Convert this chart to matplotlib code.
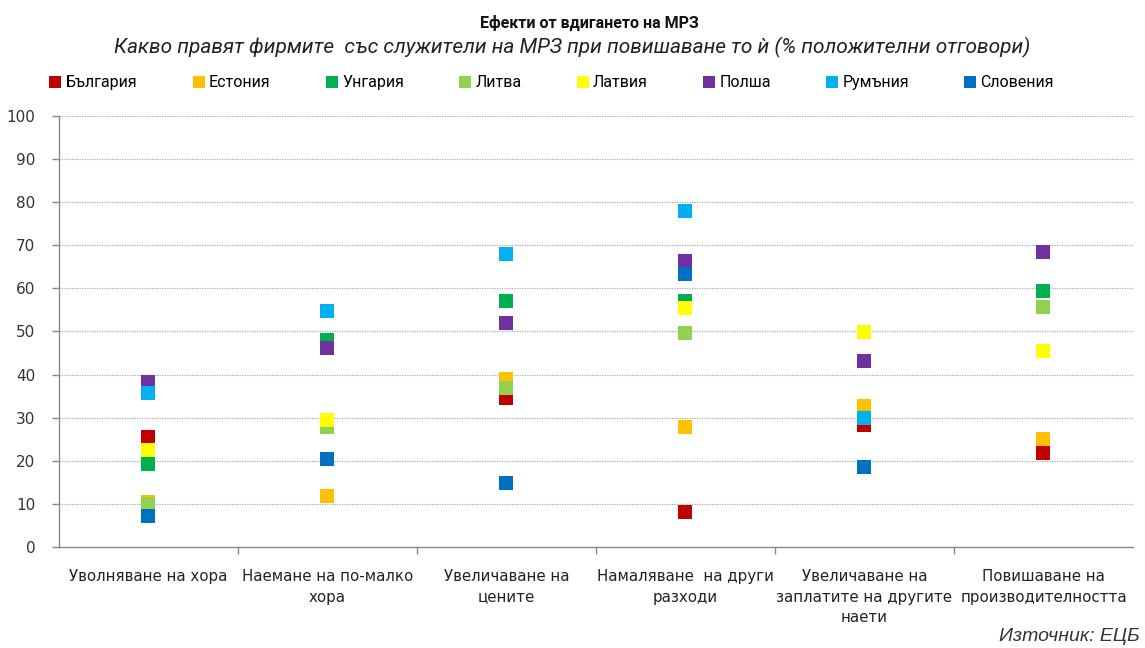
import matplotlib

matplotlib.use("Agg")
import matplotlib.pyplot as plt
import numpy as np
from matplotlib.lines import Line2D

# ---------- data (% positive answers) ----------
categories = [
    "Уволняване на хора",
    "Наемане на по-малко\nхора",
    "Увеличаване на\nцените",
    "Намаляване  на други\nразходи",
    "Увеличаване на\nзаплатите на другите\nнаети",
    "Повишаване на\nпроизводителността",
]
countries = ["България", "Естония", "Унгария", "Литва", "Латвия", "Полша", "Румъния", "Словения"]
colors = ["#C00000", "#FFC000", "#00B050", "#92D050", "#FFFF00", "#7030A0", "#00B0F0", "#0070C0"]

nan = np.nan
bulgaria = [25.5, nan, 34.6, 8.2, 28.4, 21.8]
estonia = [10.5, 11.8, 39.0, 27.8, 32.7, 25.0]
hungary = [19.3, 48.0, 57.1, 57.0, nan, 59.4]
lithuania = [10.0, 27.8, 36.9, 49.6, nan, 55.7]
latvia = [22.5, 29.4, nan, 55.4, 49.8, 45.5]
poland = [38.3, 46.2, 52.0, 66.4, 43.2, 68.4]
romania = [35.7, 54.8, 68.0, 78.0, 30.0, nan]
slovenia = [7.2, 20.4, 14.8, 63.4, 18.6, nan]
series = [bulgaria, estonia, hungary, lithuania, latvia, poland, romania, slovenia]

yticks = list(range(0, 101, 10))

# ---------- figure ----------
fig = plt.figure(figsize=(11.45, 6.48), dpi=100)
fig.patch.set_facecolor("white")
ax = fig.add_axes([0.0515, 0.156, 0.938, 0.665])

x = np.arange(len(categories))
for vals, c in zip(series, colors):
    ax.plot(x, vals, ls="none", marker="s", ms=9.5, color=c, mec=c, mew=0, zorder=3)

ax.set_xlim(-0.5, len(categories) - 0.5)
ax.set_ylim(0, 100)
ax.set_yticks(yticks)
ax.set_yticklabels([str(t) for t in yticks], fontsize=11, color="#333333")
ax.set_xticks(x)
ax.set_xticklabels(categories, fontsize=10.8, color="#222222", linespacing=1.45)
ax.set_xticks(np.arange(0.5, len(categories) - 0.5, 1.0), minor=True)
ax.tick_params(axis="x", which="major", length=0, pad=16)
ax.tick_params(axis="x", which="minor", length=5, color="#888888", width=1)
ax.tick_params(axis="y", length=5, color="#888888", width=1, pad=12)

for y in yticks[1:]:
    ax.axhline(y, color="#aaaaaa", lw=0.9, ls=(0, (1, 1)), zorder=1)

for s in ["top", "right"]:
    ax.spines[s].set_visible(False)
for s in ["left", "bottom"]:
    ax.spines[s].set_color("#888888")
    ax.spines[s].set_linewidth(1.0)

# ---------- titles ----------
fig.text(0.515, 0.965, "Ефекти от вдигането на МРЗ", ha="center", va="center",
         fontsize=11.5, fontweight="bold", family="Roboto", color="#111111")
fig.text(0.5, 0.926, "Какво правят фирмите  със служители на МРЗ при повишаване то ѝ (% положителни отговори)",
         ha="center", va="center", fontsize=15, style="italic", family="Roboto", color="#222222")

# ---------- legend ----------
handles = [Line2D([], [], ls="none", marker="s", ms=8, color=c, mew=0) for c in colors]
fig.legend(handles, countries, loc="center left", bbox_to_anchor=(0.038, 0.872, 0.888, 0.0),
           ncol=8, mode="expand", frameon=False, handlelength=0.7, handletextpad=0.3,
           prop={"family": "Roboto", "size": 11.5}, borderaxespad=0)

fig.text(0.995, 0.005, "Източник: ЕЦБ", ha="right", va="bottom", fontsize=14,
         style="italic", family="Liberation Sans", color="#333333")

fig.savefig("out.png", dpi=100, facecolor="white")
